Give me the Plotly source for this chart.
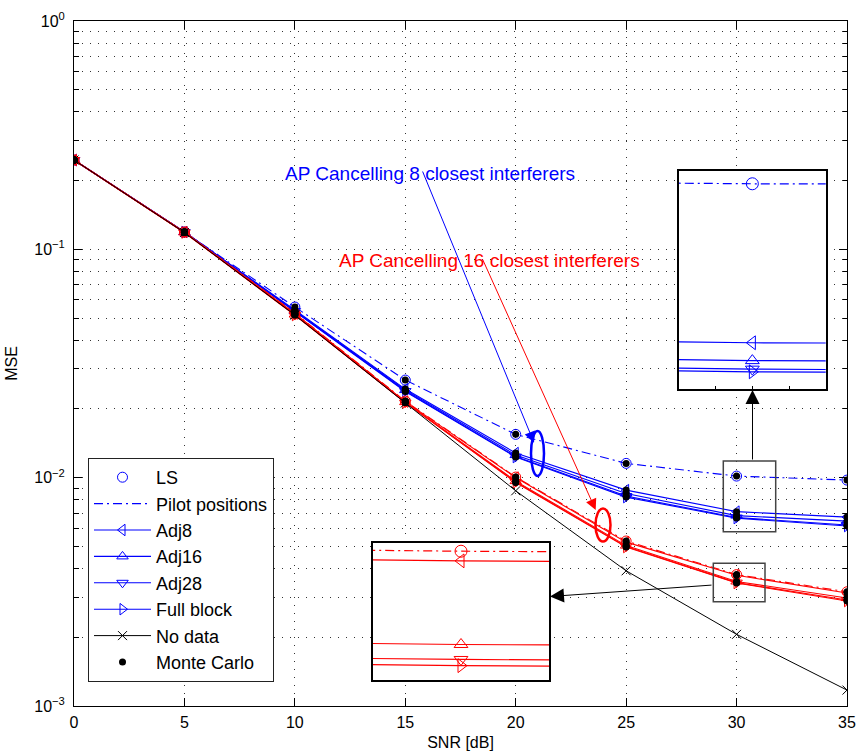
import plotly.graph_objects as go

# ---------------- data ----------------
snr = [0, 5, 10, 15, 20, 25, 30, 35]

# AP cancelling 8 closest interferers (blue)
ls_8 = [0.2461, 0.1191, 0.05588, 0.02676, 0.01548, 0.01155, 0.01016, 0.00976]
adj8_8 = [0.2461, 0.1191, 0.05421, 0.02443, 0.01282, 0.00882, 0.00710, 0.00672]
adj16_8 = [0.2461, 0.1191, 0.05367, 0.02419, 0.01256, 0.00852, 0.00682, 0.00645]
adj28_8 = [0.2461, 0.1191, 0.05367, 0.02395, 0.01237, 0.00831, 0.00669, 0.00620]
full_8 = [0.2461, 0.1191, 0.05340, 0.02383, 0.01231, 0.00822, 0.00665, 0.00614]

# AP cancelling 16 closest interferers (red)
ls_16 = [0.2461, 0.1191, 0.05260, 0.02165, 0.01006, 0.00528, 0.003763, 0.003164]
adj8_16 = [0.2461, 0.1191, 0.05233, 0.02154, 0.01001, 0.00522, 0.003736, 0.003123]
adj16_16 = [0.2461, 0.1185, 0.05181, 0.02143, 0.00966, 0.00504, 0.003510, 0.002970]
adj28_16 = [0.2461, 0.1185, 0.05155, 0.02132, 0.00957, 0.00499, 0.003471, 0.002911]
full_16 = [0.2461, 0.1185, 0.05155, 0.02132, 0.00952, 0.00497, 0.003455, 0.002882]

no_data = [0.2461, 0.1185, 0.05155, 0.02122, 0.00876, 0.00391, 0.002060, 0.001174]

x_ticks = [0, 5, 10, 15, 20, 25, 30, 35]
y_major = [1e-3, 1e-2, 1e-1, 1e0]
y_major_text = ["10<sup>\u22123</sup>", "10<sup>\u22122</sup>", "10<sup>\u22121</sup>", "10<sup>0</sup>"]
y_minor = [m * d for d in [1e-3, 1e-2, 1e-1] for m in range(2, 10)]

# inset (magnifier) axis ranges
inset1_x = [29.95, 30.05]
inset1_logy = [-2.1943, -1.9803]
inset2_x = [29.99, 30.01]
inset2_logy = [-2.4662, -2.4219]

BLUE = "#0000ff"
RED = "#ff0000"
FONT = "Liberation Sans, Arial, Helvetica, sans-serif"

fig = go.Figure()

series_names = ["Adj8", "Adj16", "Adj28", "Full block"]
symbols = ["triangle-left-open", "triangle-up-open", "triangle-down-open", "triangle-right-open"]
DASHDOT = "9px,4px,2px,4px"


def add_panel_bg(xr, lyr, xa, ya):
    lo, hi = 10 ** lyr[0], 10 ** lyr[1]
    fig.add_trace(go.Scatter(x=[xr[0], xr[1], xr[1], xr[0], xr[0]],
                             y=[lo, lo, hi, hi, lo], mode="none", fill="toself",
                             fillcolor="white", showlegend=False, hoverinfo="skip",
                             xaxis=xa, yaxis=ya))


def add_group(ls, adjs, color, legend, xa, ya, msize, lw):
    fig.add_trace(go.Scatter(x=snr, y=ls, mode="lines", name="Pilot positions",
                             line=dict(color=color, width=lw, dash=DASHDOT),
                             showlegend=legend, legendrank=2, xaxis=xa, yaxis=ya))
    fig.add_trace(go.Scatter(x=snr, y=ls, mode="markers", name="LS",
                             marker=dict(symbol="circle-open", size=msize, color=color,
                                         line=dict(width=1, color=color)),
                             showlegend=legend, legendrank=1, xaxis=xa, yaxis=ya))
    for k, (vals, nm, sym) in enumerate(zip(adjs, series_names, symbols)):
        fig.add_trace(go.Scatter(x=snr, y=vals, mode="lines+markers", name=nm,
                                 line=dict(color=color, width=lw),
                                 marker=dict(symbol=sym, size=msize, color=color,
                                             line=dict(width=1, color=color)),
                                 showlegend=legend, legendrank=3 + k, xaxis=xa, yaxis=ya))


blue_adj = [adj8_8, adj16_8, adj28_8, full_8]
red_adj = [adj8_16, adj16_16, adj28_16, full_16]

# main axes
add_group(ls_8, blue_adj, BLUE, True, "x", "y", 10, 1.1)
add_group(ls_16, red_adj, RED, False, "x", "y", 10, 1.1)
fig.add_trace(go.Scatter(x=snr, y=no_data, mode="lines+markers", name="No data",
                         line=dict(color="black", width=1),
                         marker=dict(symbol="x-thin-open", size=9, color="black",
                                     line=dict(width=1, color="black")),
                         legendrank=7))
mc_sets = [ls_8] + blue_adj + [ls_16] + red_adj
mc_x = [s for _ in mc_sets for s in snr]
mc_y = [v for vals in mc_sets for v in vals]
fig.add_trace(go.Scatter(x=mc_x, y=mc_y, mode="markers", name="Monte Carlo",
                         marker=dict(symbol="circle", size=7, color="black"),
                         legendrank=8))

# insets
add_panel_bg(inset1_x, inset1_logy, "x2", "y2")
add_group(ls_8, blue_adj, BLUE, False, "x2", "y2", 12, 1.2)
add_panel_bg(inset2_x, inset2_logy, "x3", "y3")
add_group(ls_16, red_adj, RED, False, "x3", "y3", 12, 1.2)

# ---------------- layout ----------------
W, H = 858, 755
L, R, T, B = 74, 11, 21, 49
PW, PH = W - L - R, H - T - B


def px(x):
    return (x - L) / PW


def py(y):
    return 1 - (y - T) / PH


GRID = dict(showgrid=True, gridcolor="#333333", griddash="1px,7px", gridwidth=1)

fig.update_layout(
    width=W, height=H,
    margin=dict(l=L, r=R, t=T, b=B, autoexpand=False),
    paper_bgcolor="white", plot_bgcolor="white",
    font=dict(family=FONT, size=16, color="black"),
    showlegend=True,
    legend=dict(x=px(88), y=py(458), xanchor="left", yanchor="top",
                bgcolor="white", bordercolor="#222222", borderwidth=1,
                font=dict(size=18, family=FONT), itemwidth=57,
                traceorder="normal", tracegroupgap=0),
    xaxis=dict(domain=[0, 1], range=[0, 35], tickmode="array", tickvals=x_ticks,
               ticks="inside", ticklen=8, tickcolor="black", showline=True,
               linecolor="black", linewidth=1, mirror="allticks", zeroline=False,
               automargin=False, ticklabelstandoff=2,
               title=dict(text="SNR [dB]", standoff=6, font=dict(size=16)),
               **GRID),
    yaxis=dict(domain=[0, 1], type="log", range=[-3, 0], tickmode="array",
               tickvals=y_major, ticktext=y_major_text,
               ticks="inside", ticklen=8, tickcolor="black", showline=True,
               linecolor="black", linewidth=1, mirror="allticks", zeroline=False,
               automargin=False, ticklabelstandoff=5,
               minor=dict(tickmode="array", tickvals=y_minor, ticks="inside",
                          ticklen=4.5, tickcolor="black", showgrid=True,
                          gridcolor="#333333", griddash="1px,7px", gridwidth=1),
               title=dict(text="MSE", standoff=12, font=dict(size=16)),
               **GRID),
    xaxis2=dict(domain=[px(679), px(825.7)], anchor="y2", range=inset1_x,
                showgrid=False, zeroline=False, showline=True, mirror=True,
                linecolor="black", linewidth=1.5, showticklabels=False,
                ticks="inside", ticklen=4, tickcolor="black",
                tickmode="array", tickvals=[29.975, 30.0, 30.025], automargin=False),
    yaxis2=dict(domain=[py(389.3), py(170.7)], anchor="x2", type="log",
                range=inset1_logy, showgrid=False, zeroline=False,
                showline=True, mirror=True, linecolor="black", linewidth=1.5,
                showticklabels=False, ticks="", automargin=False),
    xaxis3=dict(domain=[px(372.7), px(549.3)], anchor="y3", range=inset2_x,
                showgrid=False, zeroline=False, showline=True, mirror=True,
                linecolor="black", linewidth=1.5, showticklabels=False, ticks="",
                automargin=False),
    yaxis3=dict(domain=[py(680), py(543.3)], anchor="x3", type="log",
                range=inset2_logy, showgrid=False, zeroline=False,
                showline=True, mirror=True, linecolor="black", linewidth=1.5,
                showticklabels=False, ticks="", automargin=False),
)

shapes = [
    dict(type="rect", xref="paper", yref="paper", x0=px(723.3), x1=px(775.7),
         y0=py(531.7), y1=py(461), line=dict(color="#444444", width=1.5)),
    dict(type="rect", xref="paper", yref="paper", x0=px(713.3), x1=px(765),
         y0=py(601.7), y1=py(563.3), line=dict(color="#444444", width=1.5)),
    dict(type="circle", xref="paper", yref="paper", x0=px(531), x1=px(544),
         y0=py(476), y1=py(431), line=dict(color=BLUE, width=2.5)),
    dict(type="circle", xref="paper", yref="paper", x0=px(595.5), x1=px(610.5),
         y0=py(541.5), y1=py(508.5), line=dict(color=RED, width=2.5)),
]
fig.update_layout(shapes=shapes)

annotations = [
    dict(text="AP Cancelling 8 closest interferers", xref="paper", yref="paper",
         x=px(430), y=py(161), showarrow=False, font=dict(size=19, color=BLUE, family=FONT)),
    dict(text="AP Cancelling 16 closest interferers", xref="paper", yref="paper",
         x=px(490), y=py(248), showarrow=False, font=dict(size=19, color=RED, family=FONT)),
    dict(text="", xref="paper", yref="paper", x=px(534), y=py(442.7),
         ax=422 - 534, ay=170 - 442.7, showarrow=True, arrowhead=2, arrowsize=2.2,
         arrowwidth=1, arrowcolor=BLUE),
    dict(text="", xref="paper", yref="paper", x=px(595.7), y=py(510),
         ax=482 - 595.7, ay=258 - 510, showarrow=True, arrowhead=2, arrowsize=2.2,
         arrowwidth=1, arrowcolor=RED),
    dict(text="", xref="paper", yref="paper", x=px(752.5), y=py(390),
         ax=0, ay=461 - 390, showarrow=True, arrowhead=2, arrowsize=2.8,
         arrowwidth=1, arrowcolor="black"),
    dict(text="", xref="paper", yref="paper", x=px(550), y=py(596.5),
         ax=713 - 550, ay=585 - 596.5, showarrow=True, arrowhead=2, arrowsize=2.8,
         arrowwidth=1, arrowcolor="black"),
]
fig.update_layout(annotations=annotations)

fig.write_html("out.html", config={"displayModeBar": False},
               post_script="document.body.style.margin='0px';")
